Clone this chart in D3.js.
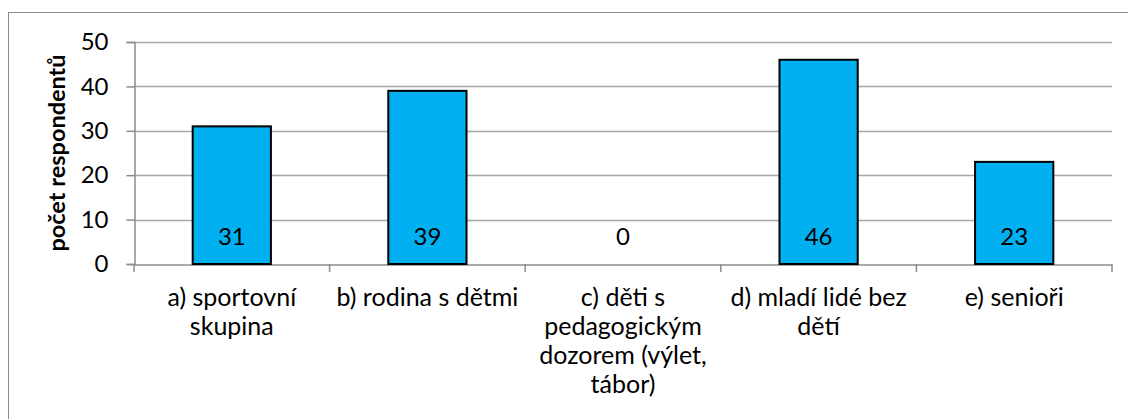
<!DOCTYPE html>
<html>
<head>
<meta charset="utf-8">
<script src="https://cdn.jsdelivr.net/npm/d3@7"></script>
<style>
  body { margin: 0; background: #fff; }
  text { font-family: Lato, "Open Sans", sans-serif; }
</style>
</head>
<body>
<svg id="chart"></svg>
<script>
// chart size
const width = 1128;
const height = 419;

// categories, each label split into its lines
const categories = ["a", "b", "c", "d", "e"];
const categoryLabels = [
    ["a) sportovní", "skupina"],
    ["b) rodina s dětmi"],
    ["c) děti s", "pedagogickým", "dozorem (výlet,", "tábor)"],
    ["d) mladí lidé bez", "dětí"],
    ["e) senioři"]
];
const values = [31, 39, 0, 46, 23];
const yTicks = [0, 10, 20, 30, 40, 50];
const yTitle = "počet respondentů";

const margin = {top: 42, right: 16, bottom: 155, left: 134};

const svg = d3.select("#chart")
    .attr("width", width)
    .attr("height", height);

// outer chart border (runs off the right and bottom edges)
svg.append("rect")
    .attr("x", 8.5)
    .attr("y", 12.5)
    .attr("width", 1140)
    .attr("height", 430)
    .attr("fill", "none")
    .attr("stroke", "#8c8c8c")
    .attr("stroke-width", 1);

const x = d3.scaleBand()
    .domain(categories)
    .range([margin.left, width - margin.right])
    .padding(0);

const y = d3.scaleLinear()
    .domain([0, 50])
    .range([height - margin.bottom, margin.top]);

// gridlines
svg.append("g")
    .selectAll("line")
    .data(yTicks.filter(d => d > 0))
    .join("line")
    .attr("x1", margin.left)
    .attr("x2", width - margin.right)
    .attr("y1", d => Math.round(y(d)) + 0.5)
    .attr("y2", d => Math.round(y(d)) + 0.5)
    .attr("stroke", "#a6a6a6")
    .attr("stroke-width", 1.5);

// y axis
const yAxis = svg.append("g")
    .attr("transform", `translate(${margin.left + 0.5},0)`)
    .call(d3.axisLeft(y).tickValues(yTicks).tickSize(8).tickPadding(18));
yAxis.select(".domain").attr("stroke", "#8c8c8c").attr("stroke-width", 1.5);
yAxis.selectAll(".tick line").attr("stroke", "#8c8c8c").attr("stroke-width", 1.5);
yAxis.selectAll(".tick text")
    .attr("font-size", 24)
    .attr("fill", "#000")
    .style("font-family", "Lato, 'Open Sans', sans-serif");

// x axis
const xAxis = svg.append("g")
    .attr("transform", `translate(0,${Math.round(y(0)) + 0.5})`)
    .call(d3.axisBottom(x).tickValues([]).tickSizeOuter(0));
xAxis.select(".domain").attr("stroke", "#8c8c8c").attr("stroke-width", 1.5);

// category separators on the x axis
svg.append("g")
    .selectAll("line")
    .data(categories.concat(["end"]))
    .join("line")
    .attr("x1", (d, i) => i < categories.length ? x(d) : x(categories[i - 1]) + x.bandwidth())
    .attr("x2", (d, i) => i < categories.length ? x(d) : x(categories[i - 1]) + x.bandwidth())
    .attr("y1", y(0))
    .attr("y2", y(0) + 8)
    .attr("stroke", "#8c8c8c")
    .attr("stroke-width", 1.5);

// bars
const barW = x.bandwidth() * 0.4;
svg.append("g")
    .selectAll("rect")
    .data(values)
    .join("rect")
    .attr("x", (d, i) => x(categories[i]) + (x.bandwidth() - barW) / 2)
    .attr("y", d => y(d))
    .attr("width", barW)
    .attr("height", d => y(0) - y(d))
    .attr("fill", d => d > 0 ? "#00b0f0" : "none")
    .attr("stroke", d => d > 0 ? "#000" : "none")
    .attr("stroke-width", 2);

// value labels at the base inside the bars
svg.append("g")
    .selectAll("text")
    .data(values)
    .join("text")
    .attr("x", (d, i) => x(categories[i]) + x.bandwidth() / 2)
    .attr("y", y(0) - 19)
    .attr("text-anchor", "middle")
    .attr("font-size", 24)
    .attr("fill", "#000")
    .text(d => d);

// category labels
const labels = svg.append("g")
    .selectAll("text")
    .data(categoryLabels)
    .join("text")
    .attr("x", (d, i) => x(categories[i]) + x.bandwidth() / 2)
    .attr("y", y(0) + 42)
    .attr("text-anchor", "middle")
    .attr("font-size", 25)
    .attr("fill", "#000");
labels.selectAll("tspan")
    .data(d => d)
    .join("tspan")
    .attr("x", function () { return this.parentNode.getAttribute("x"); })
    .attr("dy", (d, i) => i === 0 ? 0 : 29)
    .text(d => d);

// y axis title
svg.append("text")
    .attr("transform", `translate(65,${(y(0) + y(50)) / 2}) rotate(-90)`)
    .attr("text-anchor", "middle")
    .attr("font-size", 23.5)
    .attr("font-weight", "bold")
    .attr("fill", "#000")
    .text(yTitle);
</script>
</body>
</html>
